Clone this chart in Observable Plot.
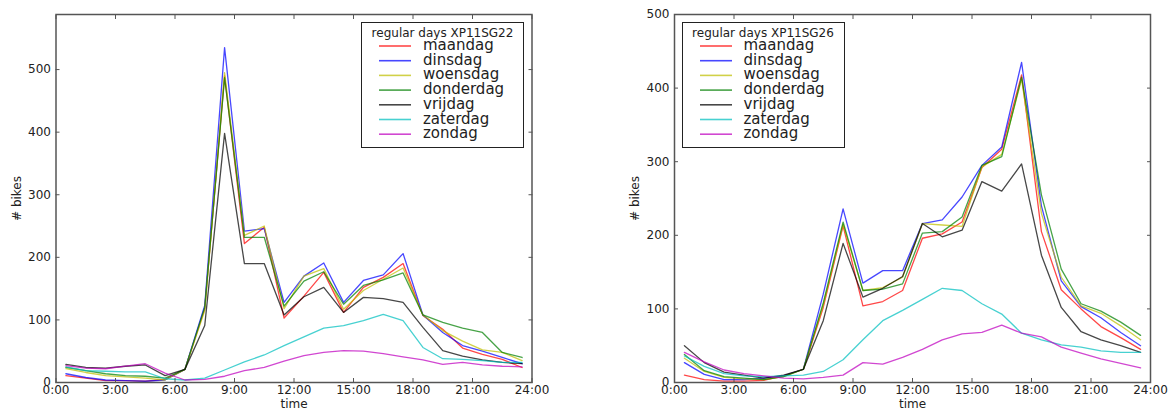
<!DOCTYPE html>
<html>
<head>
<meta charset="utf-8">
<script src="https://cdn.jsdelivr.net/npm/d3@7"></script>
<script src="https://cdn.jsdelivr.net/npm/@observablehq/plot@0.6"></script>
<style>
  body { margin: 0; background: #fff; font-family: "DejaVu Sans", sans-serif; }
  #wrap { position: relative; width: 1173px; height: 410px; overflow: hidden; background: #fff; }
  .panel { position: absolute; top: 0; }
  .legend { position: absolute; top: 22px; width: 163px; height: 126px; box-sizing: border-box;
            border: 1.3px solid #222; background: #fff; }
  .legend .ttl { position: absolute; left: 0; top: 4px; width: 100%; text-align: center;
                 font-size: 12px; line-height: 13px; color: #222; white-space: nowrap; }
  .legend svg { position: absolute; left: 0; top: 0; }
  .legend .lbl { position: absolute; left: 61px; font-size: 15px; line-height: 14px; color: #222; white-space: nowrap; }
</style>
</head>
<body>
<div id="wrap"></div>
<script>
// ---- data ----
const hours = [0.5, 1.5, 2.5, 3.5, 4.5, 5.5, 6.5, 7.5, 8.5, 9.5, 10.5, 11.5,
               12.5, 13.5, 14.5, 15.5, 16.5, 17.5, 18.5, 19.5, 20.5, 21.5, 22.5, 23.5];
const days = ["maandag", "dinsdag", "woensdag", "donderdag", "vrijdag", "zaterdag", "zondag"];
const dayColors = ["#ff0000", "#0000ff", "#bfbf00", "#008000", "#000000", "#00bfbf", "#bf00bf"];
const xTickValues = [0, 3, 6, 9, 12, 15, 18, 21, 24];
const xTickLabels = ["0:00", "3:00", "6:00", "9:00", "12:00", "15:00", "18:00", "21:00", "24:00"];
const yTicks = [0, 100, 200, 300, 400, 500];
const panelTitles = ["regular days XP11SG22", "regular days XP11SG26"];

// XP11SG22
const sg22Maandag   = [11, 7, 3, 3, 2, 5, 21, 118, 490, 222, 248, 103, 138, 176, 112, 152, 168, 190, 107, 85, 55, 45, 37, 24];
const sg22Dinsdag   = [14, 8, 4, 3, 2, 4, 21, 123, 535, 242, 246, 128, 170, 191, 128, 163, 172, 206, 108, 80, 59, 50, 40, 30];
const sg22Woensdag  = [22, 16, 11, 9, 7, 4, 21, 115, 495, 235, 250, 118, 170, 182, 117, 147, 165, 183, 108, 83, 66, 52, 48, 35];
const sg22Donderdag = [24, 19, 14, 11, 10, 7, 21, 120, 487, 232, 232, 122, 162, 177, 125, 155, 164, 175, 108, 96, 87, 80, 48, 40];
const sg22Vrijdag   = [29, 24, 23, 26, 28, 11, 21, 91, 398, 190, 190, 108, 137, 152, 112, 136, 134, 128, 88, 51, 42, 36, 32, 30];
const sg22Zaterdag  = [25, 19, 18, 17, 17, 6, 4, 7, 20, 33, 44, 59, 73, 87, 91, 99, 109, 99, 56, 38, 37, 35, 32, 32];
const sg22Zondag    = [27, 23, 22, 26, 30, 15, 4, 5, 10, 19, 24, 34, 43, 48, 51, 50, 46, 41, 36, 29, 32, 28, 26, 25];

// XP11SG26
const sg26Maandag   = [10, 4, 2, 2, 3, 9, 18, 102, 213, 104, 110, 125, 196, 202, 218, 292, 317, 418, 205, 126, 100, 76, 61, 45];
const sg26Dinsdag   = [27, 11, 4, 4, 6, 9, 18, 120, 236, 135, 152, 152, 216, 221, 252, 295, 320, 435, 240, 138, 103, 88, 68, 50];
const sg26Woensdag  = [33, 15, 7, 5, 4, 8, 18, 105, 215, 125, 129, 143, 216, 214, 212, 293, 310, 412, 230, 143, 104, 94, 77, 58];
const sg26Donderdag = [38, 16, 8, 6, 4, 8, 18, 108, 218, 125, 127, 134, 203, 205, 225, 295, 307, 415, 255, 154, 107, 97, 82, 64];
const sg26Vrijdag   = [50, 27, 14, 10, 6, 10, 18, 84, 189, 116, 128, 144, 216, 198, 207, 273, 260, 297, 173, 102, 69, 58, 50, 41];
const sg26Zaterdag  = [36, 22, 12, 9, 8, 9, 10, 15, 31, 58, 84, 98, 113, 128, 125, 107, 93, 67, 58, 51, 48, 43, 41, 41];
const sg26Zondag    = [41, 28, 17, 12, 9, 6, 5, 7, 10, 27, 25, 34, 45, 58, 66, 68, 78, 67, 62, 48, 40, 32, 26, 20];

const sg22Series = [sg22Maandag, sg22Dinsdag, sg22Woensdag, sg22Donderdag, sg22Vrijdag, sg22Zaterdag, sg22Zondag];
const sg26Series = [sg26Maandag, sg26Dinsdag, sg26Woensdag, sg26Donderdag, sg26Vrijdag, sg26Zaterdag, sg26Zondag];

// ---- drawing ----
const wrap = document.getElementById("wrap");
const SVGNS = "http://www.w3.org/2000/svg";

function makePanel(series, yMax, left, width, mLeft, mRight, labelOffset, title, legendLeft) {
  const rows = [];
  series.forEach((vals, i) => vals.forEach((v, j) => rows.push({hour: hours[j], bikes: v, day: days[i]})));
  const chart = Plot.plot({
    width, height: 410,
    marginTop: 14, marginBottom: 28, marginLeft: mLeft, marginRight: mRight,
    style: {fontFamily: "DejaVu Sans", fontSize: "12px", color: "#222", background: "transparent"},
    x: {domain: [0, 24]},
    y: {domain: [0, yMax]},
    color: {domain: days, range: dayColors},
    marks: [
      Plot.line(rows, {x: "hour", y: "bikes", z: "day", stroke: "day", strokeWidth: 1.3, strokeOpacity: 0.72}),
      Plot.axisX({anchor: "bottom", ticks: xTickValues, tickFormat: d => xTickLabels[xTickValues.indexOf(d)],
                  tickSize: -4, tickPadding: 7, stroke: "#555", label: "time", labelAnchor: "center",
                  labelArrow: "none", labelOffset: 25}),
      Plot.axisX({anchor: "top", ticks: xTickValues, tickFormat: () => "", tickSize: -4, stroke: "#555", label: null}),
      Plot.axisY({anchor: "left", ticks: yTicks, tickSize: -4, tickPadding: 9, stroke: "#555", label: "# bikes",
                  labelAnchor: "center", labelArrow: "none", labelOffset: labelOffset}),
      Plot.axisY({anchor: "right", ticks: yTicks, tickFormat: () => "", tickSize: -4, stroke: "#555", label: null}),
      Plot.frame({stroke: "#555", strokeWidth: 1.5})
    ]
  });
  const div = document.createElement("div");
  div.className = "panel";
  div.style.left = left + "px";
  div.appendChild(chart);
  wrap.appendChild(div);

  // legend
  const lg = document.createElement("div");
  lg.className = "legend";
  lg.style.left = legendLeft + "px";
  const t = document.createElement("div");
  t.className = "ttl";
  t.textContent = title;
  lg.appendChild(t);
  const svg = document.createElementNS(SVGNS, "svg");
  svg.setAttribute("width", 160);
  svg.setAttribute("height", 124);
  lg.appendChild(svg);
  days.forEach((d, i) => {
    const cy = 23 + i * 14.7;
    const ln = document.createElementNS(SVGNS, "line");
    ln.setAttribute("x1", 17);
    ln.setAttribute("x2", 49);
    ln.setAttribute("y1", cy);
    ln.setAttribute("y2", cy);
    ln.setAttribute("stroke", dayColors[i]);
    ln.setAttribute("stroke-width", 1.6);
    ln.setAttribute("stroke-opacity", 0.72);
    svg.appendChild(ln);
    const l = document.createElement("div");
    l.className = "lbl";
    l.style.top = (cy - 8) + "px";
    l.textContent = d;
    lg.appendChild(l);
  });
  wrap.appendChild(lg);
}

makePanel(sg22Series, 588, 0, 586, 55.5, 54.5, 44, panelTitles[0], 361);
makePanel(sg26Series, 500, 586, 587, 88, 23, 44, panelTitles[1], 681.5);
</script>
</body>
</html>
